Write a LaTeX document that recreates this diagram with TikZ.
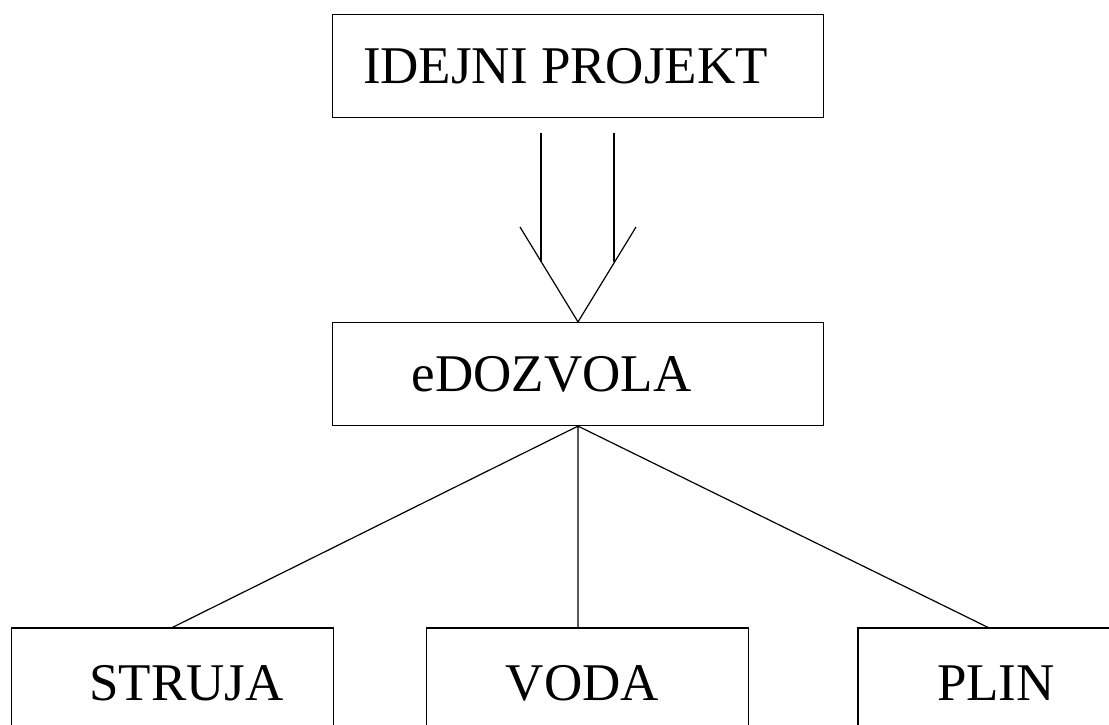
\documentclass[tikz,border=0pt]{standalone}
\usepackage{fontspec}
\setmainfont{Liberation Serif}
\begin{document}
\begin{tikzpicture}[x=1pt, y=-1pt, line width=1.2pt,
  node font=\fontsize{53}{60}\selectfont,
  box/.style={draw, rectangle, inner sep=0pt, text height=35pt, text depth=0pt,
    minimum width=491pt, minimum height=103pt},
  subbox/.style={box, minimum width=322pt, minimum height=109pt}]
  \useasboundingbox (0,0) rectangle (1109,724);
  \clip (0,0) rectangle (1109,724);
  \node [box] (idejni) at (578,66) {\hspace*{-25pt}IDEJNI PROJEKT};
  \node [box] (edozvola) at (578,374) {\hspace*{-53pt}eDOZVOLA};
  \node [subbox] (struja) at (172.5,682.5) {\hspace*{28pt}STRUJA};
  \node [subbox] (voda) at (587.5,682.5) {\hspace*{-10pt}VODA};
  \node [subbox] (plin) at (1019,682.5) {\hspace*{-46pt}PLIN};
  % double arrow
  \coordinate (barbL) at (520,227);
  \coordinate (barbR) at (636,227);
  \draw (barbL) -- (edozvola.north) -- (barbR);
  \draw (541,133) -- (541,262)
        (614,133) -- (614,262);
  % branches
  \draw (edozvola.south) -- (struja.north)
        (edozvola.south) -- (edozvola.south |- voda.north)
        (edozvola.south) -- ([xshift=-31pt]plin.north);
\end{tikzpicture}
\end{document}
